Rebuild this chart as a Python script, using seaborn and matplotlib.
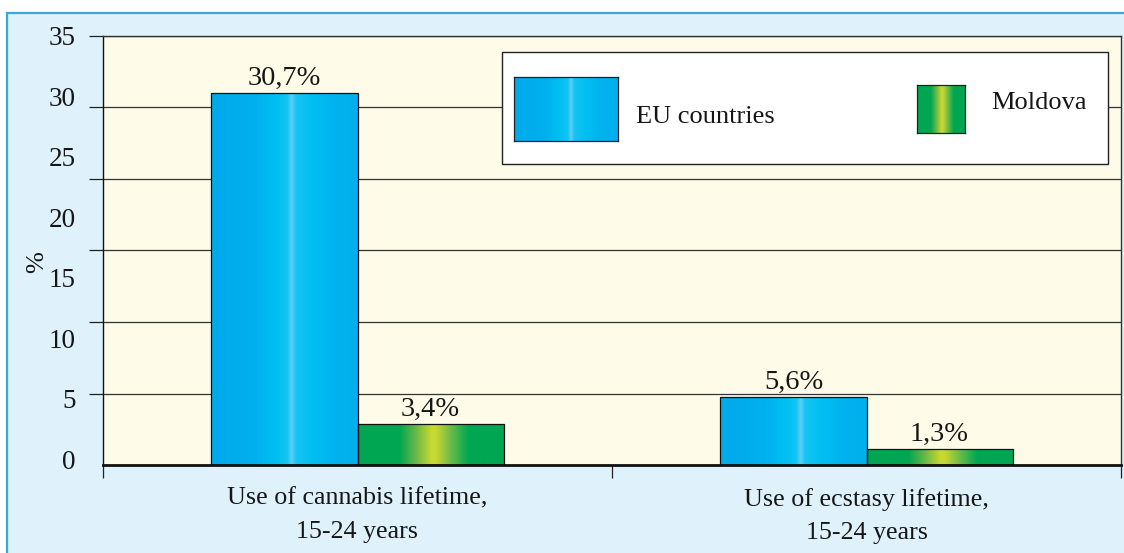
import numpy as np
import pandas as pd
import matplotlib
matplotlib.use("Agg")
import matplotlib.pyplot as plt
import matplotlib.transforms as mtransforms
from matplotlib.patches import Rectangle
from matplotlib.colors import LinearSegmentedColormap
import seaborn as sns

categories = ["Use of cannabis lifetime,\n15-24 years", "Use of ecstasy lifetime,\n15-24 years"]
groups = ["EU countries", "Moldova"]
eu_values = [30.7, 5.6]
moldova_values = [3.4, 1.3]
eu_labels = ["30,7%", "5,6%"]
moldova_labels = ["3,4%", "1,3%"]
y_ticks = [0, 5, 10, 15, 20, 25, 30, 35]

df = pd.DataFrame({
    "category": categories * 2,
    "group": [groups[0]] * 2 + [groups[1]] * 2,
    "value": eu_values + moldova_values,
})

# gradient colour stops (left -> right across a bar)
blue_stops = [(0.0, (0, 170, 235)), (0.3, (0, 176, 238)), (0.45, (0, 192, 242)),
              (0.52, (20, 196, 243)), (0.55, (95, 206, 245)), (0.58, (20, 196, 243)),
              (0.7, (0, 190, 242)), (0.85, (0, 178, 238)), (1.0, (0, 176, 238))]
green_stops = [(0.0, (0, 166, 81)), (0.28, (0, 166, 81)), (0.4, (110, 185, 70)),
               (0.5, (200, 216, 50)), (0.53, (200, 216, 50)), (0.62, (120, 190, 70)),
               (0.75, (0, 166, 81)), (1.0, (0, 166, 81))]


def make_cmap(name, stops):
    return LinearSegmentedColormap.from_list(name, [(p, tuple(c / 255 for c in rgb)) for p, rgb in stops])


blue_cmap = make_cmap("eu", blue_stops)
green_cmap = make_cmap("md", green_stops)
grad = np.linspace(0, 1, 256).reshape(1, -1)

sns.set_style("white")
plt.rcParams["font.family"] = ["Liberation Serif", "DejaVu Serif"]

fig = plt.figure(figsize=(11.24, 5.53), dpi=100, facecolor="white")
fig.add_artist(Rectangle((7 / 1124, -0.02), 1.1, (553 - 13) / 553 + 0.02, transform=fig.transFigure,
                         facecolor="#dff1fb", edgecolor="#3aa8e0", linewidth=1.6, zorder=0))
ax = fig.add_axes([103 / 1124, 1 - 465 / 553, 1018 / 1124, 429 / 553])
ax.set_facecolor("#fefce8")

sns.barplot(data=df, x="category", y="value", hue="group", palette=["#00b0ee", "#00a651"],
            width=0.574, errorbar=None, edgecolor="#111111", linewidth=0.9, legend=False, ax=ax)

# paint gradients into each bar
for container, cmap, labels in zip(ax.containers, [blue_cmap, green_cmap], [eu_labels, moldova_labels]):
    for bar in container:
        x0, y0 = bar.get_x(), bar.get_y()
        w, h = bar.get_width(), bar.get_height()
        im = ax.imshow(grad, cmap=cmap, extent=[x0, x0 + w, y0, y0 + h], aspect="auto",
                       interpolation="bilinear", zorder=bar.get_zorder() - 0.01)
        im.set_clip_path(bar)
        bar.set_facecolor("none")
    ax.bar_label(container, labels=labels, padding=1.5, fontsize=20.5, color="#161616")

y_top = 35.45
ax.set_xlim(-0.5, 1.5)
ax.set_ylim(0, y_top)
ax.set_xlabel("")
ax.set_ylabel("%", fontsize=19, color="#161616")
ax.yaxis.set_label_coords(-0.054, 0.473)

# labelled ticks (no marks) and the odd gridline ticks
ax.set_yticks(y_ticks)
ax.set_yticks(np.linspace(0, y_top, 7), minor=True)
ax.set_xticks([0, 1])
ax.set_xticks([-0.5, 0.5, 1.5], minor=True)
ax.tick_params(axis="y", which="major", left=False, pad=16, labelsize=19.5, labelcolor="#161616")
ax.tick_params(axis="y", which="minor", left=True, length=10, width=0.9, color="#222222", direction="out")
ax.tick_params(axis="x", which="major", bottom=False, pad=13, labelsize=18.7, labelcolor="#161616")
ax.tick_params(axis="x", which="minor", bottom=True, length=9.5, width=0.9, color="#222222", direction="out")
for lbl in ax.get_xticklabels():
    lbl.set_linespacing(1.65)
for lbl in ax.get_yticklabels():
    lbl.set_transform(lbl.get_transform() + mtransforms.ScaledTranslation(0, 4 / 72, fig.dpi_scale_trans))

ax.set_axisbelow(True)
ax.grid(False)
ax.grid(True, which="minor", axis="y", color="#333333", linewidth=0.9)

for side in ["top", "right"]:
    ax.spines[side].set_visible(True)
    ax.spines[side].set_color("#333333")
    ax.spines[side].set_linewidth(1.0)
ax.spines["left"].set_color("#111111")
ax.spines["left"].set_linewidth(1.0)
ax.spines["bottom"].set_color("#111111")
ax.spines["bottom"].set_linewidth(2.0)

# legend box
ax.add_patch(Rectangle((0.392, 0.7016), 0.595, 0.261, transform=ax.transAxes, facecolor="white",
                       edgecolor="#222222", linewidth=1.0, zorder=4))
for (x, y, w, h), cmap in [((0.404, 0.755, 0.102, 0.149), blue_cmap),
                           ((0.7996, 0.774, 0.0472, 0.112), green_cmap)]:
    iax = ax.inset_axes([x, y, w, h], zorder=5)
    iax.imshow(grad, cmap=cmap, aspect="auto", interpolation="bilinear")
    iax.set_xticks([])
    iax.set_yticks([])
    for s in iax.spines.values():
        s.set_color("#222222")
        s.set_linewidth(0.9)
ax.text(0.5236, 0.812, groups[0], transform=ax.transAxes, fontsize=19, va="center", ha="left",
        color="#161616", zorder=6)
ax.text(0.8723, 0.843, groups[1], transform=ax.transAxes, fontsize=19, va="center", ha="left",
        color="#161616", zorder=6)

fig.savefig("out.png", dpi=100)
